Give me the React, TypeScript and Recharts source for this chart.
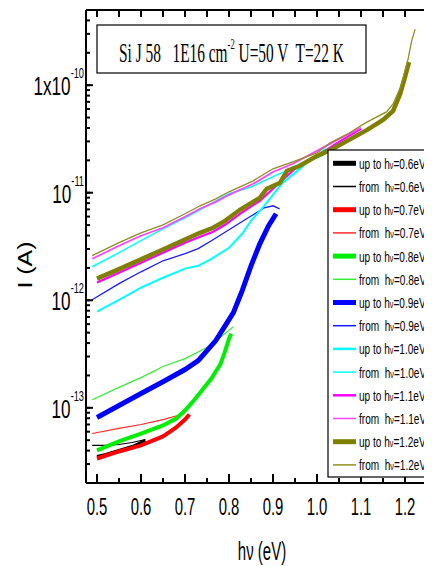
import React from 'react';
import { LineChart, Line, XAxis, YAxis } from 'recharts';

// photon energy (eV), current (A)
const upTo06 = [[0.5, 3.53e-14], [0.52, 3.68e-14], [0.55, 4.02e-14], [0.58, 4.37e-14], [0.6, 4.76e-14], [0.61, 4.97e-14]];
const from06 = [[0.489, 4.47e-14], [0.52, 4.47e-14], [0.55, 4.56e-14], [0.58, 4.76e-14], [0.6, 4.97e-14], [0.61, 5.08e-14]];
const upTo07 = [[0.5, 3.38e-14], [0.55, 3.93e-14], [0.6, 4.47e-14], [0.65, 5.42e-14], [0.68, 6.56e-14], [0.7, 7.78e-14], [0.71, 8.67e-14]];
const from07 = [[0.489, 5.77e-14], [0.55, 6.43e-14], [0.6, 7.0e-14], [0.65, 7.78e-14], [0.7, 8.85e-14]];
const upTo08 = [[0.5, 4.02e-14], [0.55, 4.87e-14], [0.6, 5.77e-14], [0.65, 6.85e-14], [0.68, 7.96e-14], [0.7, 9.44e-14], [0.72, 1.17e-13], [0.74, 1.48e-13], [0.76, 1.87e-13], [0.78, 2.52e-13], [0.79, 3.26e-13], [0.8, 4.4e-13], [0.805, 4.9e-13]];
const from08 = [[0.489, 1.19e-13], [0.55, 1.55e-13], [0.6, 1.91e-13], [0.65, 2.42e-13], [0.7, 2.87e-13], [0.75, 3.63e-13], [0.78, 4.5e-13], [0.81, 5.69e-13]];
const upTo09 = [[0.5, 8.13e-14], [0.55, 1.05e-13], [0.6, 1.36e-13], [0.65, 1.75e-13], [0.7, 2.27e-13], [0.73, 2.75e-13], [0.75, 3.4e-13], [0.77, 4.22e-13], [0.79, 5.69e-13], [0.81, 7.67e-13], [0.83, 1.23e-12], [0.85, 2.09e-12], [0.87, 3.35e-12], [0.89, 4.93e-12], [0.907, 6.37e-12]];
const from09 = [[0.489, 1.01e-12], [0.55, 1.43e-12], [0.6, 1.84e-12], [0.65, 2.33e-12], [0.7, 2.71e-12], [0.73, 3.02e-12], [0.76, 3.58e-12], [0.8, 4.52e-12], [0.84, 5.72e-12], [0.88, 7.24e-12], [0.9, 7.56e-12], [0.915, 7.08e-12]];
const upTo10 = [[0.5, 7.84e-13], [0.55, 1.01e-12], [0.6, 1.31e-12], [0.65, 1.62e-12], [0.7, 1.97e-12], [0.73, 2.09e-12], [0.76, 2.43e-12], [0.8, 3.08e-12], [0.83, 4.15e-12], [0.85, 5.48e-12], [0.88, 7.56e-12], [0.9, 9.57e-12], [0.92, 1.21e-11], [0.95, 1.53e-11], [0.98, 1.94e-11], [1.0, 2.2e-11], [1.02, 2.56e-11]];
const from10 = [[0.489, 2.05e-12], [0.55, 2.77e-12], [0.6, 3.58e-12], [0.65, 4.62e-12], [0.7, 5.85e-12], [0.73, 6.79e-12], [0.77, 8.41e-12], [0.8, 9.77e-12], [0.85, 1.13e-11], [0.9, 1.41e-11], [0.95, 1.74e-11], [1.0, 2.11e-11], [1.023, 2.35e-11]];
const upTo11 = [[0.5, 1.46e-12], [0.55, 1.8e-12], [0.6, 2.23e-12], [0.65, 2.77e-12], [0.7, 3.43e-12], [0.734, 3.9e-12], [0.764, 4.34e-12], [0.791, 5.03e-12], [0.825, 6.37e-12], [0.87, 8.41e-12], [0.9, 1.09e-11], [0.95, 1.67e-11], [1.0, 2.2e-11], [1.05, 2.97e-11], [1.1, 3.92e-11]];
const from11 = [[0.489, 2.43e-12], [0.55, 3.21e-12], [0.6, 3.98e-12], [0.65, 4.72e-12], [0.7, 5.97e-12], [0.734, 7.09e-12], [0.77, 8.23e-12], [0.8, 9.56e-12], [0.855, 1.21e-11], [0.9, 1.56e-11], [0.945, 1.86e-11], [1.0, 2.45e-11], [1.05, 3.17e-11], [1.1, 4.01e-11]];
const upTo12 = [[0.5, 1.59e-12], [0.55, 1.95e-12], [0.6, 2.4e-12], [0.65, 2.97e-12], [0.7, 3.67e-12], [0.734, 4.24e-12], [0.764, 4.72e-12], [0.791, 5.48e-12], [0.825, 6.94e-12], [0.87, 8.97e-12], [0.886, 1.09e-11], [0.916, 1.24e-11], [0.932, 1.6e-11], [0.961, 1.78e-11], [1.0, 2.2e-11], [1.036, 2.56e-11], [1.114, 3.84e-11], [1.15, 4.75e-11], [1.173, 5.76e-11], [1.189, 8.29e-11], [1.2, 1.19e-10], [1.209, 1.64e-10]];
const from12 = [[0.489, 2.6e-12], [0.55, 3.43e-12], [0.6, 4.24e-12], [0.65, 5.03e-12], [0.7, 6.37e-12], [0.734, 7.56e-12], [0.77, 8.78e-12], [0.8, 1.02e-11], [0.855, 1.29e-11], [0.9, 1.67e-11], [0.945, 1.94e-11], [1.0, 2.35e-11], [1.03, 2.91e-11], [1.07, 3.52e-11], [1.11, 4.46e-11], [1.158, 5.64e-11], [1.173, 6.69e-11], [1.189, 9.42e-11], [1.2, 1.35e-10], [1.207, 1.75e-10], [1.215, 2.57e-10], [1.223, 3.32e-10]];

const X_TICKS = [0.5, 0.55, 0.6, 0.65, 0.7, 0.75, 0.8, 0.85, 0.9, 0.95, 1.0, 1.05, 1.1, 1.15, 1.2, 1.25];
const X_DOMAIN = [0.475, 1.275];
const Y_DECADES = [-14, -13, -12, -11, -10];
const Y_MANTISSAS = [1, 2, 3, 4, 5, 6, 7, 8, 9];
const Y_DOMAIN = [2e-14, 5e-10];
const Y_TICKS = Y_DECADES.flatMap((d) => Y_MANTISSAS.map((m) => m * Math.pow(10, d))).filter(
  (v) => v >= Y_DOMAIN[0] * 0.999 && v <= Y_DOMAIN[1] * 1.001
);

const TITLE_MAIN = 'Si J 58   1E16 cm';
const TITLE_SUP = '-2';
const TITLE_REST = ' U=50 V  T=22 K';

// "from" series are bound to the (identical) top axis
const SERIES = [
  { kind: 'up to ', e: '0.6', data: upTo06, color: '#000000', w: 3, lw: 5, ax: 'b' },
  { kind: 'from  ', e: '0.6', data: from06, color: '#000000', w: 1.2, lw: 1.5, ax: 't' },
  { kind: 'up to ', e: '0.7', data: upTo07, color: '#ff0000', w: 4, lw: 5, ax: 'b' },
  { kind: 'from  ', e: '0.7', data: from07, color: '#ff2a2a', w: 1.2, lw: 1.5, ax: 't' },
  { kind: 'up to ', e: '0.8', data: upTo08, color: '#00ee00', w: 4, lw: 5, ax: 'b' },
  { kind: 'from  ', e: '0.8', data: from08, color: '#33ee33', w: 1.2, lw: 1.5, ax: 't' },
  { kind: 'up to ', e: '0.9', data: upTo09, color: '#0000ff', w: 5, lw: 5, ax: 'b' },
  { kind: 'from  ', e: '0.9', data: from09, color: '#1a1aff', w: 1.3, lw: 1.5, ax: 't' },
  { kind: 'up to ', e: '1.0', data: upTo10, color: '#00ffff', w: 2, lw: 2.5, ax: 'b' },
  { kind: 'from  ', e: '1.0', data: from10, color: '#00ffff', w: 1.5, lw: 1.5, ax: 't' },
  { kind: 'up to ', e: '1.1', data: upTo11, color: '#ff00ff', w: 2.2, lw: 2.5, ax: 'b' },
  { kind: 'from  ', e: '1.1', data: from11, color: '#ff44ff', w: 1.8, lw: 1.5, ax: 't' },
  { kind: 'up to ', e: '1.2', data: upTo12, color: '#808000', w: 4.5, lw: 5, ax: 'b' },
  { kind: 'from  ', e: '1.2', data: from12, color: '#8f8f20', w: 1.3, lw: 1.5, ax: 't' },
];

const SANS = "'Liberation Sans', Arial, Helvetica, sans-serif";
const SERIF = "'Liberation Serif', 'Times New Roman', Times, serif";

const isMajorX = (v: number) => Math.abs(v * 10 - Math.round(v * 10)) < 1e-6;

// tick labels; tick marks come from recharts' own tickLine (drawn inwards), majors lengthened here
const BottomTick = (props: any) => {
  const { x, y, payload } = props;
  const v = payload.value;
  const major = isMajorX(v);
  return (
    <g>
      {major && <rect x={x - 1} y={y - 9} width={2} height={9} fill="#000" />}
      {major && (
        <text
          transform={`translate(${x},${y + 32}) scale(0.62,1)`}
          textAnchor="middle"
          fontSize={24}
          fontFamily={SANS}
          fill="#000"
        >
          {v.toFixed(1)}
        </text>
      )}
    </g>
  );
};

const TopTick = () => <g />;

const LeftTick = (props: any) => {
  const { x, y, payload } = props;
  const v = payload.value;
  const e = Math.log10(v);
  const exp = Math.round(e);
  const major = Math.abs(e - exp) < 1e-6;
  if (!major) return <g />;
  return (
    <g>
      <rect x={x} y={y - 1} width={7} height={2} fill="#000" />
      <text
        transform={`translate(${x - 2},${y + 10}) scale(0.66,1)`}
        textAnchor="end"
        fontSize={26}
        fontFamily={SANS}
        fill="#000"
      >
        {exp === -10 ? '1x10' : '10'}
        <tspan fontSize={14} dy={-17}>{String(exp)}</tspan>
      </text>
    </g>
  );
};

export default function App() {
  const rowY0 = 163.3;
  const rowStep = 23.2;
  const tickStroke = { stroke: '#000', strokeWidth: 2 };
  return (
    <div
      style={{
        position: 'relative',
        width: 432,
        height: 566,
        marginLeft: -8,
        marginTop: -8,
        overflow: 'hidden',
        background: '#fff',
      }}
    >
      <LineChart width={438} height={566} margin={{ top: 9, right: 0, bottom: 0, left: 0 }}>
        <XAxis
          xAxisId="b"
          orientation="bottom"
          type="number"
          dataKey="x"
          domain={X_DOMAIN}
          allowDataOverflow
          ticks={X_TICKS}
          interval={0}
          tick={(p: any) => <BottomTick {...p} />}
          tickLine={tickStroke}
          tickSize={-5}
          tickMargin={5}
          height={83}
          axisLine={{ stroke: '#000', strokeWidth: 2 }}
        />
        <XAxis
          xAxisId="t"
          orientation="top"
          type="number"
          dataKey="x"
          domain={X_DOMAIN}
          allowDataOverflow
          ticks={X_TICKS}
          interval={0}
          tick={(p: any) => <TopTick {...p} />}
          tickLine={tickStroke}
          tickSize={-7}
          tickMargin={7}
          height={1}
          axisLine={{ stroke: '#000', strokeWidth: 2 }}
        />
        <YAxis
          yAxisId="l"
          type="number"
          scale="log"
          domain={Y_DOMAIN}
          allowDataOverflow
          ticks={Y_TICKS}
          interval={0}
          tick={(p: any) => <LeftTick {...p} />}
          tickLine={tickStroke}
          tickSize={-4}
          tickMargin={4}
          width={86}
          axisLine={{ stroke: '#000', strokeWidth: 2 }}
        />
        {SERIES.map((s, i) => (
          <Line
            key={i}
            xAxisId={s.ax}
            yAxisId="l"
            data={s.data.map(([x, y]) => ({ x, y }))}
            dataKey="y"
            type="linear"
            stroke={s.color}
            strokeWidth={s.w}
            dot={false}
            activeDot={false}
            isAnimationActive={false}
          />
        ))}
      </LineChart>
      <svg
        width={432}
        height={566}
        style={{ position: 'absolute', left: 0, top: 0, pointerEvents: 'none' }}
      >
        {/* title box */}
        <rect x={97} y={25} width={269} height={48} fill="#fff" stroke="#000" strokeWidth={1.2} />
        <text
          transform="translate(231.5,62.3) scale(0.57,1)"
          textAnchor="middle"
          fontSize={27}
          fontFamily={SERIF}
          fill="#000"
          style={{ whiteSpace: 'pre' }}
        >
          {TITLE_MAIN}
          <tspan fontSize={15} dy={-13}>{TITLE_SUP}</tspan>
          <tspan fontSize={27} dy={13}>{TITLE_REST}</tspan>
        </text>
        {/* legend */}
        <rect x={328} y={150} width={120} height={327} fill="#fff" stroke="#000" strokeWidth={1.2} />
        {SERIES.map((s, i) => {
          const cy = rowY0 + i * rowStep;
          return (
            <g key={i}>
              <line x1={333} x2={356} y1={cy} y2={cy} stroke={s.color} strokeWidth={s.lw} />
              <text
                transform={`translate(359,${cy + 5.5}) scale(0.72,1)`}
                fontSize={14}
                fontFamily={SANS}
                fill="#000"
                style={{ whiteSpace: 'pre' }}
              >
                {s.kind + 'h'}
                <tspan fontSize={10}>ν</tspan>
                {'=' + s.e + 'eV'}
              </text>
            </g>
          );
        })}
        {/* axis titles */}
        <text
          transform="translate(32,265) rotate(-90) scale(1,0.84)"
          textAnchor="middle"
          fontSize={25}
          fontFamily={SANS}
          fill="#000"
          style={{ whiteSpace: 'pre' }}
        >
          I (A)
        </text>
        <text
          transform="translate(262,560) scale(0.6,1)"
          textAnchor="middle"
          fontSize={25}
          fontFamily={SANS}
          fill="#000"
        >
          hν (eV)
        </text>
        <text transform="translate(0,507) scale(0.7,1)" fontSize={15} fontFamily={SANS} fill="#000">
          4
        </text>
      </svg>
    </div>
  );
}
